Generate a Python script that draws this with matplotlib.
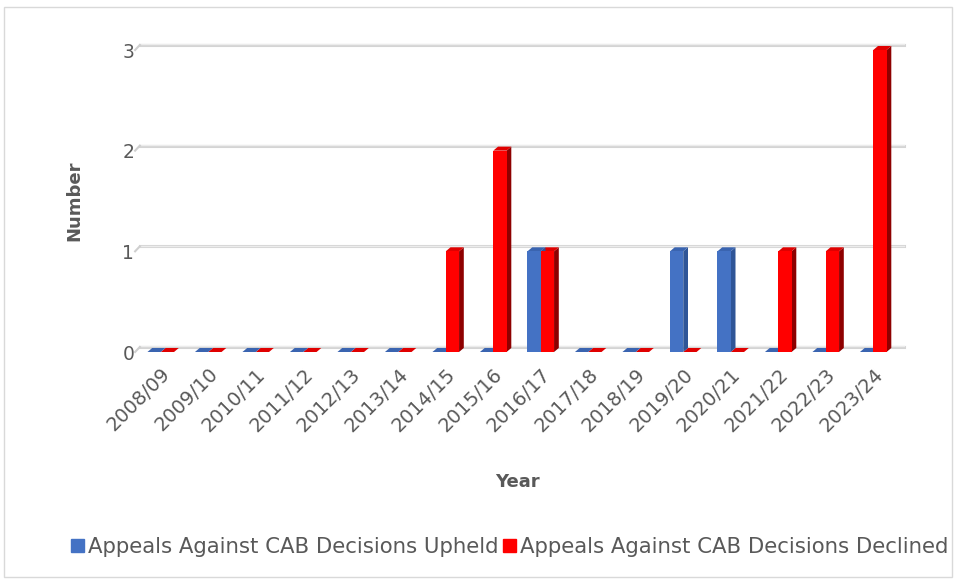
import numpy as np
import matplotlib.pyplot as plt
import matplotlib.transforms as mtransforms
from matplotlib.patches import Polygon, Rectangle

years = ['2008/09', '2009/10', '2010/11', '2011/12', '2012/13', '2013/14',
         '2014/15', '2015/16', '2016/17', '2017/18', '2018/19', '2019/20',
         '2020/21', '2021/22', '2022/23', '2023/24']
upheld = [0, 0, 0, 0, 0, 0, 0, 0, 1, 0, 0, 1, 1, 0, 0, 0]
declined = [0, 0, 0, 0, 0, 0, 1, 2, 1, 0, 0, 0, 0, 1, 1, 3]
yticks = [0, 1, 2, 3]

text_col = '#595959'
blue, blue_side, blue_top = '#4472C4', '#2F5597', '#3A64B0'
red, red_side, red_top = '#FF0000', '#8E0000', '#E00000'

fig = plt.figure(figsize=(9.56, 5.79), dpi=100)
ax = fig.add_axes([137 / 956, 1 - 352 / 579, 760 / 956, 302 / 579])
ax.set_xlim(-0.5, len(years) - 0.5)
ax.set_ylim(0, 3)

# 3D depth in data units
dx, dy = 0.10, 0.04
bw = 0.28
x = np.arange(len(years))

# back wall gridlines
for v in yticks:
    ax.plot([-0.5 + 0.06, len(years) - 0.5 + 0.15], [v + 0.05, v + 0.05],
            color='#d4d4d4', lw=2.2, clip_on=False, zorder=1)
    ax.plot([-0.5 + 0.06, len(years) - 0.5 + 0.15], [v + 0.055, v + 0.055],
            color='#ececec', lw=1, clip_on=False, zorder=1)
    ax.plot([-0.5 - 0.04, -0.5 + 0.06], [v + 0.0, v + 0.05],
            color='#cfcfcf', lw=1.5, clip_on=False, zorder=1)


def bar3d(xs, hs, face, side, top):
    for xc, h in zip(xs, hs):
        x0, x1 = xc - bw / 2, xc + bw / 2
        ax.add_patch(Polygon([(x1, 0), (x1 + dx, dy), (x1 + dx, h + dy), (x1, h)],
                             closed=True, fc=side, ec='none', zorder=3, clip_on=False))
        ax.add_patch(Polygon([(x0, h), (x1, h), (x1 + dx, h + dy), (x0 + dx, h + dy)],
                             closed=True, fc=top, ec='none', zorder=3, clip_on=False))
    ax.bar(xs, hs, width=bw, color=face, zorder=4, clip_on=False)


bar3d(x + bw / 2, declined, red, red_side, red_top)
bar3d(x - bw / 2, upheld, blue, blue_side, blue_top)

ax.set_xticks(x)
ax.set_xticklabels(years, rotation=45, ha='right', va='top', rotation_mode='anchor',
                   fontsize=14, color=text_col)
shift = mtransforms.ScaledTranslation(-8 / 72, 0, fig.dpi_scale_trans)
for lbl in ax.get_xticklabels():
    lbl.set_transform(lbl.get_transform() + shift)
ax.set_yticks(yticks)
ax.set_yticklabels([str(v) for v in yticks], fontsize=13.5, color=text_col)
ax.tick_params(axis='both', length=0)
ax.tick_params(axis='x', pad=9)
ax.tick_params(axis='y', pad=2)
for s in ax.spines.values():
    s.set_visible(False)

ax.set_ylabel('Number', fontsize=13, fontweight='bold', color=text_col, labelpad=28)
ax.set_xlabel('Year', fontsize=13, fontweight='bold', color=text_col, labelpad=27)

h1 = Rectangle((0, 0), 1, 1, color=blue)
h2 = Rectangle((0, 0), 1, 1, color=red)
fig.legend([h1, h2], ['Appeals Against CAB Decisions Upheld',
                      'Appeals Against CAB Decisions Declined'],
           loc='center', bbox_to_anchor=(510 / 956, 1 - 547 / 579), ncol=2,
           frameon=False, fontsize=15.3, handlelength=0.6, handleheight=0.6,
           handletextpad=0.2, columnspacing=0.2, labelcolor=text_col)

fig.patches.append(Rectangle((0.004, 0.004), 0.992, 0.984, transform=fig.transFigure,
                             fill=False, ec='#d9d9d9', lw=1))

fig.savefig('out.png', dpi=100)
